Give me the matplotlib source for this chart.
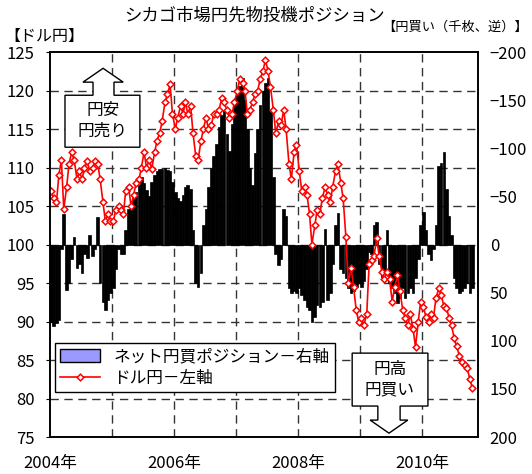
import matplotlib
matplotlib.use("Agg")
import matplotlib.pyplot as plt
import matplotlib.dates as mdates
from matplotlib.patches import Patch, Polygon
from matplotlib.lines import Line2D
from matplotlib.ticker import FuncFormatter
import pandas as pd

plt.rcParams['font.family'] = ['Noto Sans CJK JP', 'DejaVu Sans']

# semi-monthly observations, Jan 2004 - Oct 2010
dates = pd.date_range("2004-01-01", "2010-10-31", freq="SMS") + pd.Timedelta(days=7)

# net yen position (thousand contracts, + = yen long), right axis (inverted)
net_2004 = [80, 85, 82, 78, 5, -32, 47, 40, 15, -8, 24, 20, 30, 10, 14, -10, 12, 5, -29, 40, 60, 68, 58, 50]
net_2005 = [45, 25, 5, 10, 10, -15, -37, -42, -48, -55, -62, -70, -64, -57, -50, -65, -72, -76, -79, -79, -80, -78, -76, -65]
net_2006 = [-55, -48, -45, -52, -60, -62, -58, -15, 40, 44, 30, -20, -37, -60, -80, -92, -105, -122, -135, -140, -115, -97, -125, -145]
net_2007 = [-155, -165, -173, -150, -120, -80, -62, -95, -120, -145, -160, -168, -173, -140, -70, 10, 21, 15, -37, -30, 45, 50, 48, 50]
net_2008 = [45, 52, 58, 65, 68, 80, 75, 63, 65, 60, -16, 58, 50, 20, -20, -33, 25, 30, 35, 45, 50, 48, 44, 40]
net_2009 = [44, 38, 25, 8, 10, -20, -23, 20, 34, 30, -15, 40, 45, 50, 61, 55, 45, 55, 50, 45, 50, 35, 15, -20]
net_2010 = [-34, -15, 10, 16, 5, -20, -82, -85, -96, -58, -30, -10, 35, 45, 50, 48, 45, 40, 50, 45]
net_pos = net_2004 + net_2005 + net_2006 + net_2007 + net_2008 + net_2009 + net_2010

# USD/JPY, left axis
fx_2004 = [107.0, 106.0, 105.5, 109.0, 111.0, 104.6, 107.5, 110.5, 112.0, 111.0, 108.5, 109.5,
           108.5, 110.0, 110.8, 109.5, 110.0, 110.8, 110.5, 108.5, 105.5, 103.0, 104.0, 103.0]
fx_2005 = [103.0, 104.5, 105.0, 104.5, 104.0, 107.0, 107.5, 105.0, 106.5, 108.0, 108.5, 110.0,
           112.0, 110.0, 111.0, 109.8, 112.0, 113.5, 114.5, 116.0, 118.5, 119.5, 120.8, 117.0]
fx_2006 = [115.0, 116.5, 118.0, 117.0, 118.5, 117.0, 118.0, 114.5, 111.5, 111.0, 113.5, 115.0,
           116.5, 115.0, 115.5, 117.0, 117.0, 117.5, 119.0, 118.5, 117.5, 116.5, 117.0, 118.5]
fx_2007 = [120.0, 121.5, 121.0, 120.0, 117.0, 117.5, 118.5, 119.5, 120.0, 121.5, 122.5, 124.0,
           122.5, 120.5, 117.5, 114.5, 116.0, 115.5, 117.5, 115.0, 110.5, 108.5, 112.0, 113.0]
fx_2008 = [109.5, 107.0, 107.5, 106.5, 104.0, 100.0, 102.5, 104.5, 104.0, 106.0, 107.5, 106.5,
           105.5, 107.5, 109.5, 110.5, 108.0, 106.0, 101.0, 95.0, 97.0, 94.5, 91.5, 90.0]
fx_2009 = [90.5, 89.5, 91.0, 97.5, 98.0, 98.5, 100.8, 98.5, 96.5, 95.5, 96.5, 95.5,
           92.6, 94.5, 96.0, 94.0, 91.5, 90.5, 89.5, 91.0, 89.0, 86.7, 90.0, 92.5]
fx_2010 = [91.9, 90.6, 90.0, 91.0, 90.5, 93.0, 94.3, 93.5, 92.0, 91.8, 90.5, 89.5,
           87.8, 86.8, 85.5, 84.7, 84.4, 84.0, 82.5, 81.4]
usdjpy = fx_2004 + fx_2005 + fx_2006 + fx_2007 + fx_2008 + fx_2009 + fx_2010

left_ticks = list(range(75, 126, 5))
right_ticks = list(range(-200, 201, 50))
grid_years = list(range(2005, 2011))

fig = plt.figure(figsize=(5.32, 4.74), dpi=100)
ax = fig.add_axes([0.094, 0.078, 0.8045, 0.812])
ax2 = ax.twinx()
ax.set_zorder(ax2.get_zorder() + 1)
ax.patch.set_visible(False)

# bars (right axis) - drawn so densely they read as black
ax2.bar(dates, net_pos, width=15.5, color="black", edgecolor="black", linewidth=0.5, zorder=2)
ax2.set_ylim(200, -200)
ax2.set_yticks(right_ticks)
ax2.tick_params(axis="y", length=0, pad=8.5, labelsize=12)

# dashed grid at the left-axis levels and at each year, kept behind the bars
grid_style = dict(color="#333333", linestyle=(0, (6, 4)), linewidth=1, zorder=0.5)
for v in left_ticks[1:-1]:
    ax2.axhline((100 - v) * 8, **grid_style)
for yr in grid_years:
    ax2.axvline(pd.Timestamp(f"{yr}-01-01"), **grid_style)

# USD/JPY line (left axis)
marker_style = dict(color="red", linewidth=1.2, marker="D", markersize=3.4,
                    markerfacecolor="white", markeredgecolor="red", markeredgewidth=1.1)
ax.plot(dates, usdjpy, **marker_style)
ax.set_ylim(75, 125)
ax.set_yticks(left_ticks)
ax.set_xlim(pd.Timestamp("2004-01-01"), pd.Timestamp("2010-11-25"))
ax.xaxis.set_major_locator(mdates.YearLocator())
ax.xaxis.set_major_formatter(FuncFormatter(
    lambda v, p: f"{mdates.num2date(v).year}年" if mdates.num2date(v).year % 2 == 0 else ""))
ax.tick_params(axis="y", length=3, pad=8, labelsize=12)
ax.tick_params(axis="x", length=0, pad=13, labelsize=12)

for a in (ax, ax2):
    for s in a.spines.values():
        s.set_color("black")
        s.set_linewidth(1.2)

# legend
handles = [Patch(facecolor="#9999ff", edgecolor="black"), Line2D([], [], **marker_style)]
leg = ax.legend(handles, ["ネット円買ポジション－右軸", "ドル円－左軸"], loc="upper left",
                bbox_to_anchor=(0.012, 0.244), borderaxespad=0, fontsize=12,
                handlelength=2.4, handleheight=0.8, fancybox=False, framealpha=1,
                edgecolor="black", labelspacing=0.3, borderpad=0.3)
leg.get_frame().set_linewidth(1)

# callouts
up_shape = [(0.035, 0.753), (0.035, 0.888), (0.1005, 0.888), (0.1005, 0.922), (0.077, 0.922),
            (0.124, 0.958), (0.171, 0.922), (0.1495, 0.922), (0.1495, 0.888), (0.210, 0.888),
            (0.210, 0.753)]
down_shape = [(0.706, 0.218), (0.883, 0.218), (0.883, 0.0805), (0.818, 0.0805), (0.818, 0.044),
              (0.836, 0.044), (0.792, 0.010), (0.748, 0.044), (0.766, 0.044), (0.766, 0.0805),
              (0.706, 0.0805)]
for shape in (up_shape, down_shape):
    ax.add_patch(Polygon(shape, closed=True, transform=ax.transAxes, facecolor="white",
                         edgecolor="black", linewidth=1, zorder=6))
ax.text(0.123, 0.821, "円安\n円売り", transform=ax.transAxes, ha="center", va="center",
        fontsize=12, linespacing=1.25, zorder=7)
ax.text(0.794, 0.148, "円高\n円買い", transform=ax.transAxes, ha="center", va="center",
        fontsize=12, linespacing=1.25, zorder=7)

# titles
fig.text(0.479, 0.966, "シカゴ市場円先物投機ポジション", ha="center", va="center", fontsize=12.5)
fig.text(0.008, 0.924, "【ドル円】", ha="left", va="center", fontsize=11.5)
fig.text(0.992, 0.943, "【円買い（千枚、逆）】", ha="right", va="center", fontsize=9.5)

fig.savefig("out.png", dpi=100)
